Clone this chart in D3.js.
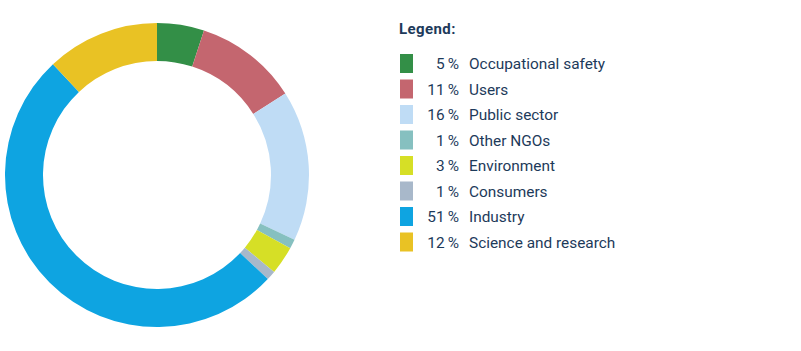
<!DOCTYPE html>
<html>
<head>
<meta charset="utf-8">
<script src="https://cdn.jsdelivr.net/npm/d3@7"></script>
<style>
  body { margin: 0; background: #fff; }
  svg { font-family: Roboto, "Noto Sans", sans-serif; }
  .legend-title { font-weight: bold; font-size: 15px; letter-spacing: 0.4px; fill: #1d3a5a; }
  .legend-text { font-size: 15.4px; fill: #1d3a5a; }
</style>
</head>
<body>
<svg id="chart"></svg>
<script>
const categories = ['Occupational safety', 'Users', 'Public sector', 'Other NGOs', 'Environment', 'Consumers', 'Industry', 'Science and research']
const shares = [5, 11, 16, 1, 3, 1, 51, 12]
const colors = ['#338f47', '#c4666f', '#bfdcf5', '#86c0c0', '#d6df26', '#a8b8ca', '#0ea4e1', '#e9c224']

const width = 801, height = 351

const svg = d3.select('#chart')
    .attr('width', width)
    .attr('height', height)

const data = categories.map((c, i) => ({ name: c, value: shares[i], color: colors[i] }))

// donut
const pie = d3.pie().sort(null).value(d => d.value)
const arc = d3.arc().innerRadius(114).outerRadius(152)

const donut = svg.append('g')
    .attr('transform', 'translate(157, 175)')

donut.selectAll('path')
    .data(pie(data))
    .join('path')
        .attr('d', arc)
        .attr('fill', d => d.data.color)

// legend
const legend = svg.append('g')
    .attr('transform', 'translate(399, 0)')

legend.append('text')
    .attr('class', 'legend-title')
    .attr('x', 0)
    .attr('y', 34)
    .text('Legend:')

const yScale = d3.scaleBand()
    .domain(categories)
    .range([51, 255])

const rows = legend.selectAll('.row')
    .data(data)
    .join('g')
        .attr('class', 'row')
        .attr('transform', d => `translate(0, ${yScale(d.name)})`)

rows.append('rect')
    .attr('x', 1)
    .attr('y', 3)
    .attr('width', 13)
    .attr('height', 19)
    .attr('fill', d => d.color)

rows.append('text')
    .attr('class', 'legend-text')
    .attr('x', 60)
    .attr('y', 18)
    .style('text-anchor', 'end')
    .text(d => `${d.value}\u2009%`)

rows.append('text')
    .attr('class', 'legend-text')
    .attr('x', 70)
    .attr('y', 18)
    .text(d => d.name)
</script>
</body>
</html>
